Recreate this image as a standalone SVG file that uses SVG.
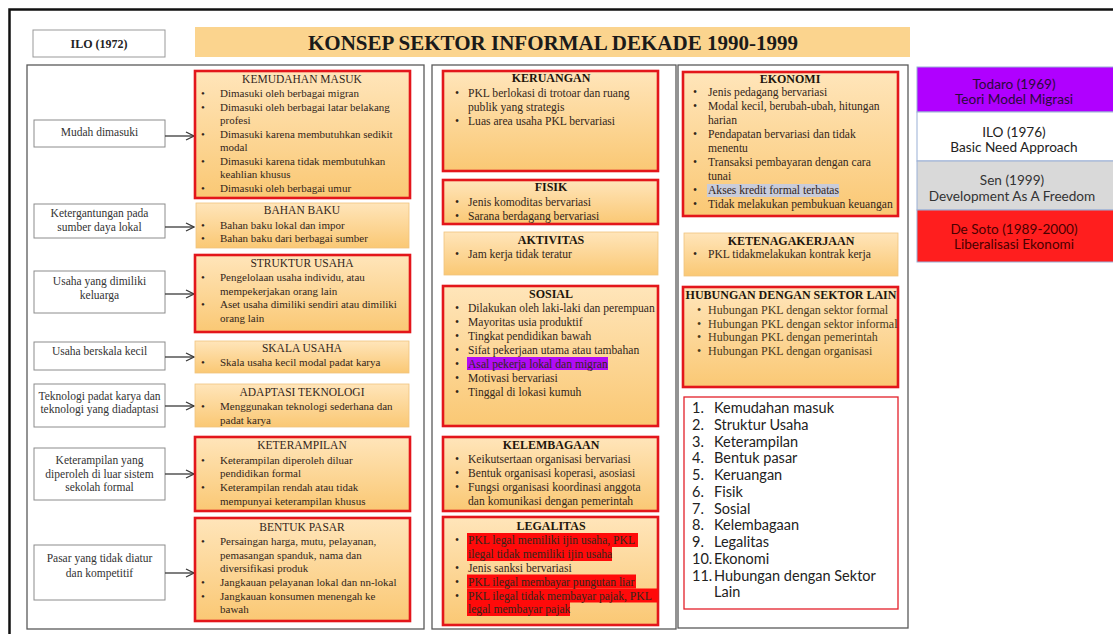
<svg xmlns="http://www.w3.org/2000/svg" width="1113" height="634" viewBox="0 0 1113 634">
<defs>
<linearGradient id="og" x1="0" y1="0" x2="0" y2="1">
<stop offset="0" stop-color="#FFE5BA"/>
<stop offset="1" stop-color="#FAC874"/>
</linearGradient>
<marker id="ah" markerWidth="10" markerHeight="10" refX="9" refY="5" orient="auto" markerUnits="userSpaceOnUse">
<path d="M1,1 L9,5 L1,9" fill="none" stroke="#3a3a3a" stroke-width="1.3"/>
</marker>
</defs>
<style>
.o{fill:url(#og);stroke:#F0C47E;stroke-width:0.8}
.r{fill:url(#og);stroke:#E3161B;stroke-width:2.6}
.lb{fill:#fff;stroke:#8c8c8c;stroke-width:1}
.pn{fill:#fff;stroke:#5a5a5a;stroke-width:1.3}
.t{font-family:"Liberation Serif",serif;font-size:11px;fill:#33261a}
.m{font-family:"Liberation Serif",serif;font-size:11.6px;fill:#33261a}
.h{font-family:"Liberation Serif",serif;font-size:12px;fill:#4a3a1c}
.tl{font-family:"Liberation Serif",serif;font-size:11.5px;fill:#33261a;text-anchor:middle}
.tb{font-family:"Liberation Serif",serif;font-size:12px;font-weight:bold;fill:#1e160c;text-anchor:middle}
.lt{font-family:"Liberation Serif",serif;font-size:11.5px;fill:#333;text-anchor:middle}
.n{font-family:Lato,"Liberation Sans",sans-serif;font-size:14.5px;fill:#222}
.g{font-family:Lato,"Liberation Sans",sans-serif;font-size:13.6px;text-anchor:middle}
.cn{fill:none;stroke:#3a3a3a;stroke-width:1.3;marker-end:url(#ah)}
</style>
<rect width="1113" height="634" fill="#fff"/>
<path d="M9.5,634 V9.5 H1113" fill="none" stroke="#111" stroke-width="2.5"/>

<g id="ilo1972">
<rect x="33" y="30" width="132" height="27" fill="#fff" stroke="#999" stroke-width="1"/>
<text x="99" y="48" font-family="Liberation Serif,serif" font-size="12" font-weight="bold" fill="#222" text-anchor="middle">ILO (1972)</text>
</g>
<g id="title">
<rect x="195" y="27" width="715" height="30" fill="#FBD48E"/>
<text x="553" y="49.5" font-family="Liberation Serif,serif" font-size="21" font-weight="bold" fill="#1a1a1a" text-anchor="middle" textLength="490" lengthAdjust="spacingAndGlyphs">KONSEP SEKTOR INFORMAL DEKADE 1990-1999</text>
</g>

<rect class="pn" x="27" y="65" width="397" height="564"/>
<rect class="pn" x="432" y="65" width="244" height="564"/>
<rect class="pn" x="678" y="65" width="230" height="563"/>

<!-- left labels -->
<g id="lbl-mudah"><rect class="lb" x="34" y="120" width="131" height="27"/><text class="lt" x="99.5" y="136">Mudah dimasuki</text></g>
<g id="lbl-ketergantungan"><rect class="lb" x="34" y="204" width="131" height="34"/><text class="lt" x="99.5" y="217">Ketergantungan pada</text><text class="lt" x="99.5" y="231">sumber daya lokal</text></g>
<g id="lbl-keluarga"><rect class="lb" x="34" y="271" width="131" height="42"/><text class="lt" x="99.5" y="285">Usaha yang dimiliki</text><text class="lt" x="99.5" y="299">keluarga</text></g>
<g id="lbl-kecil"><rect class="lb" x="34" y="342" width="131" height="28"/><text class="lt" x="99.5" y="355">Usaha berskala kecil</text></g>
<g id="lbl-teknologi"><rect class="lb" x="34" y="384" width="131" height="43"/><text class="lt" x="99.5" y="400">Teknologi padat karya dan</text><text class="lt" x="99.5" y="413">teknologi yang diadaptasi</text></g>
<g id="lbl-keterampilan"><rect class="lb" x="34" y="448" width="131" height="52"/><text class="lt" x="99.5" y="464">Keterampilan yang</text><text class="lt" x="99.5" y="478">diperoleh di luar sistem</text><text class="lt" x="99.5" y="491">sekolah formal</text></g>
<g id="lbl-pasar"><rect class="lb" x="34" y="545" width="131" height="55"/><text class="lt" x="99.5" y="562">Pasar yang tidak diatur</text><text class="lt" x="99.5" y="577">dan kompetitif</text></g>

<g id="connectors">
<path class="cn" d="M165,136 H194"/>
<path class="cn" d="M165,227 H194"/>
<path class="cn" d="M165,294 H194"/>
<path class="cn" d="M165,357 H194"/>
<path class="cn" d="M165,406 H194"/>
<path class="cn" d="M165,474 H194"/>
<path class="cn" d="M165,573 H194"/>
</g>

<!-- left content boxes -->
<g id="kemudahan-masuk">
<rect class="r" x="195" y="71" width="215" height="127"/>
<text class="tl" x="302" y="83">KEMUDAHAN MASUK</text>
<text class="t" x="201" y="97">•</text><text class="t" x="220" y="97">Dimasuki oleh berbagai migran</text>
<text class="t" x="201" y="110.5">•</text><text class="t" x="220" y="110.5">Dimasuki oleh berbagai latar belakang</text>
<text class="t" x="220" y="124">profesi</text>
<text class="t" x="201" y="137.5">•</text><text class="t" x="220" y="137.5">Dimasuki karena membutuhkan sedikit</text>
<text class="t" x="220" y="151">modal</text>
<text class="t" x="201" y="164.5">•</text><text class="t" x="220" y="164.5">Dimasuki karena tidak membutuhkan</text>
<text class="t" x="220" y="178">keahlian khusus</text>
<text class="t" x="201" y="191.5">•</text><text class="t" x="220" y="191.5">Dimasuki oleh berbagai umur</text>
</g>
<g id="bahan-baku">
<rect class="o" x="196" y="203" width="213" height="45"/>
<text class="tl" x="302" y="214">BAHAN BAKU</text>
<text class="t" x="201" y="229">•</text><text class="t" x="220" y="229">Bahan baku lokal dan impor</text>
<text class="t" x="201" y="242">•</text><text class="t" x="220" y="242">Bahan baku dari berbagai sumber</text>
</g>
<g id="struktur-usaha">
<rect class="r" x="195" y="255" width="215" height="77"/>
<text class="tl" x="302" y="267">STRUKTUR USAHA</text>
<text class="t" x="201" y="281">•</text><text class="t" x="220" y="281">Pengelolaan usaha individu, atau</text>
<text class="t" x="220" y="294.5">mempekerjakan orang lain</text>
<text class="t" x="201" y="308">•</text><text class="t" x="220" y="308">Aset usaha dimiliki sendiri atau dimiliki</text>
<text class="t" x="220" y="321.5">orang lain</text>
</g>
<g id="skala-usaha">
<rect class="o" x="195" y="341" width="214" height="32"/>
<text class="tl" x="302" y="352">SKALA USAHA</text>
<text class="t" x="201" y="366">•</text><text class="t" x="220" y="366">Skala usaha kecil modal padat karya</text>
</g>
<g id="adaptasi-teknologi">
<rect class="o" x="195" y="384" width="214" height="43"/>
<text class="tl" x="302" y="396">ADAPTASI TEKNOLOGI</text>
<text class="t" x="201" y="410">•</text><text class="t" x="220" y="410">Menggunakan teknologi sederhana dan</text>
<text class="t" x="220" y="424">padat karya</text>
</g>
<g id="keterampilan">
<rect class="r" x="195" y="437" width="215" height="74"/>
<text class="tl" x="302" y="449">KETERAMPILAN</text>
<text class="t" x="201" y="463.5">•</text><text class="t" x="220" y="463.5">Keterampilan diperoleh diluar</text>
<text class="t" x="220" y="477">pendidikan formal</text>
<text class="t" x="201" y="491">•</text><text class="t" x="220" y="491">Keterampilan rendah atau tidak</text>
<text class="t" x="220" y="504.5">mempunyai keterampilan khusus</text>
</g>
<g id="bentuk-pasar">
<rect class="r" x="195" y="518" width="215" height="103"/>
<text class="tl" x="302" y="531">BENTUK PASAR</text>
<text class="t" x="201" y="545">•</text><text class="t" x="220" y="545">Persaingan harga, mutu, pelayanan,</text>
<text class="t" x="220" y="558.5">pemasangan spanduk, nama dan</text>
<text class="t" x="220" y="572">diversifikasi produk</text>
<text class="t" x="201" y="586">•</text><text class="t" x="220" y="586">Jangkauan pelayanan lokal dan nn-lokal</text>
<text class="t" x="201" y="599.5">•</text><text class="t" x="220" y="599.5">Jangkauan konsumen menengah ke</text>
<text class="t" x="220" y="613">bawah</text>
</g>

<!-- middle column -->
<g id="keruangan">
<rect class="r" x="443" y="71" width="215" height="100"/>
<text class="tb" x="551" y="82">KERUANGAN</text>
<text class="m" x="455" y="97">•</text><text class="m" x="468" y="97">PKL berlokasi di trotoar dan ruang</text>
<text class="m" x="468" y="111">publik yang strategis</text>
<text class="m" x="455" y="125">•</text><text class="m" x="468" y="125">Luas area usaha PKL bervariasi</text>
</g>
<g id="fisik">
<rect class="r" x="443" y="180" width="215" height="44"/>
<text class="tb" x="551" y="191">FISIK</text>
<text class="m" x="455" y="206">•</text><text class="m" x="468" y="206">Jenis komoditas bervariasi</text>
<text class="m" x="455" y="220">•</text><text class="m" x="468" y="220">Sarana berdagang bervariasi</text>
</g>
<g id="aktivitas">
<rect class="o" x="444" y="232" width="214" height="43"/>
<text class="tb" x="551" y="244">AKTIVITAS</text>
<text class="m" x="455" y="258">•</text><text class="m" x="468" y="258">Jam kerja tidak teratur</text>
</g>
<g id="sosial">
<rect class="r" x="443" y="286" width="215" height="140"/>
<rect x="467" y="357" width="141" height="13" fill="#B10CF5"/>
<text class="tb" x="551" y="298">SOSIAL</text>
<text class="m" x="455" y="312">•</text><text class="m" x="468" y="312">Dilakukan oleh laki-laki dan perempuan</text>
<text class="m" x="455" y="326">•</text><text class="m" x="468" y="326">Mayoritas usia produktif</text>
<text class="m" x="455" y="340">•</text><text class="m" x="468" y="340">Tingkat pendidikan bawah</text>
<text class="m" x="455" y="354">•</text><text class="m" x="468" y="354">Sifat pekerjaan utama atau tambahan</text>
<text class="m" x="455" y="368">•</text><text class="m" x="468" y="368">Asal pekerja lokal dan migran</text>
<text class="m" x="455" y="382">•</text><text class="m" x="468" y="382">Motivasi bervariasi</text>
<text class="m" x="455" y="396">•</text><text class="m" x="468" y="396">Tinggal di lokasi kumuh</text>
</g>
<g id="kelembagaan">
<rect class="r" x="443" y="437" width="215" height="74"/>
<text class="tb" x="551" y="449">KELEMBAGAAN</text>
<text class="m" x="455" y="463">•</text><text class="m" x="468" y="463">Keikutsertaan organisasi bervariasi</text>
<text class="m" x="455" y="477">•</text><text class="m" x="468" y="477">Bentuk organisasi koperasi, asosiasi</text>
<text class="m" x="455" y="491">•</text><text class="m" x="468" y="491">Fungsi organisasi koordinasi anggota</text>
<text class="m" x="468" y="505">dan komunikasi dengan pemerintah</text>
</g>
<g id="legalitas">
<rect class="r" x="443" y="517" width="215" height="108"/>
<g fill="#FF0A0A">
<rect x="467" y="533" width="171" height="14"/>
<rect x="467" y="547" width="145" height="14"/>
<rect x="467" y="574.5" width="169" height="14"/>
<rect x="467" y="588.5" width="191" height="14"/>
<rect x="467" y="602" width="103" height="14"/>
</g>
<text class="tb" x="551" y="530">LEGALITAS</text>
<text class="m" x="455" y="544">•</text><text class="m" x="468" y="544">PKL legal memiliki ijin usaha, PKL</text>
<text class="m" x="468" y="558">ilegal tidak memiliki ijin usaha</text>
<text class="m" x="455" y="571.5">•</text><text class="m" x="468" y="571.5">Jenis sanksi bervariasi</text>
<text class="m" x="455" y="585.5">•</text><text class="m" x="468" y="585.5">PKL ilegal membayar pungutan liar</text>
<text class="m" x="455" y="599.5">•</text><text class="m" x="468" y="599.5">PKL ilegal tidak membayar pajak, PKL</text>
<text class="m" x="468" y="613">legal membayar pajak</text>
</g>

<!-- right column -->
<g id="ekonomi">
<rect class="r" x="683" y="72" width="215" height="144"/>
<rect x="707" y="184" width="132" height="13" fill="#C9CCDA"/>
<text class="tb" x="790" y="83">EKONOMI</text>
<text class="m" x="693" y="96">•</text><text class="m" x="708" y="96">Jenis pedagang bervariasi</text>
<text class="m" x="693" y="110">•</text><text class="m" x="708" y="110">Modal kecil, berubah-ubah, hitungan</text>
<text class="m" x="708" y="124">harian</text>
<text class="m" x="693" y="138">•</text><text class="m" x="708" y="138">Pendapatan bervariasi dan tidak</text>
<text class="m" x="708" y="152">menentu</text>
<text class="m" x="693" y="166">•</text><text class="m" x="708" y="166">Transaksi pembayaran dengan cara</text>
<text class="m" x="708" y="180">tunai</text>
<text class="m" x="693" y="194">•</text><text class="m" x="708" y="194">Akses kredit formal terbatas</text>
<text class="m" x="693" y="208">•</text><text class="m" x="708" y="208">Tidak melakukan pembukuan keuangan</text>
</g>
<g id="ketenagakerjaan">
<rect class="o" x="684" y="233" width="214" height="43"/>
<text class="tb" x="791" y="245">KETENAGAKERJAAN</text>
<text class="m" x="693" y="258">•</text><text class="m" x="708" y="258">PKL tidakmelakukan kontrak kerja</text>
</g>
<g id="hubungan">
<rect class="r" x="683" y="287" width="215" height="100"/>
<text class="tb" x="791" y="299">HUBUNGAN DENGAN SEKTOR LAIN</text>
<text class="h" x="697" y="314">•</text><text class="h" x="708" y="314">Hubungan PKL dengan sektor formal</text>
<text class="h" x="697" y="327.5">•</text><text class="h" x="708" y="327.5">Hubungan PKL dengan sektor informal</text>
<text class="h" x="697" y="341">•</text><text class="h" x="708" y="341">Hubungan PKL dengan pemerintah</text>
<text class="h" x="697" y="355">•</text><text class="h" x="708" y="355">Hubungan PKL dengan organisasi</text>
</g>
<g id="daftar">
<rect x="684" y="397" width="214" height="212" fill="#fff" stroke="#E3202A" stroke-width="1.3"/>
<text class="n" x="692" y="413">1.</text><text class="n" x="714" y="413">Kemudahan masuk</text>
<text class="n" x="692" y="429.8">2.</text><text class="n" x="714" y="429.8">Struktur Usaha</text>
<text class="n" x="692" y="446.5">3.</text><text class="n" x="714" y="446.5">Keterampilan</text>
<text class="n" x="692" y="463.3">4.</text><text class="n" x="714" y="463.3">Bentuk pasar</text>
<text class="n" x="692" y="480">5.</text><text class="n" x="714" y="480">Keruangan</text>
<text class="n" x="692" y="496.8">6.</text><text class="n" x="714" y="496.8">Fisik</text>
<text class="n" x="692" y="513.5">7.</text><text class="n" x="714" y="513.5">Sosial</text>
<text class="n" x="692" y="530.3">8.</text><text class="n" x="714" y="530.3">Kelembagaan</text>
<text class="n" x="692" y="547">9.</text><text class="n" x="714" y="547">Legalitas</text>
<text class="n" x="692" y="563.8">10.</text><text class="n" x="714" y="563.8">Ekonomi</text>
<text class="n" x="692" y="580.5">11.</text><text class="n" x="714" y="580.5">Hubungan dengan Sektor</text>
<text class="n" x="714" y="597.3">Lain</text>
</g>

<!-- legend -->
<g id="todaro">
<rect x="917" y="67" width="197" height="45" fill="#B000FF" stroke="#9AAFD6" stroke-width="1"/>
<text class="g" x="1014" y="88.5" fill="#2a0a3a">Todaro (1969)</text>
<text class="g" x="1014" y="103.5" fill="#2a0a3a">Teori Model Migrasi</text>
</g>
<g id="ilo1976">
<rect x="917" y="112" width="197" height="49" fill="#fff" stroke="#9AAFD6" stroke-width="1"/>
<text class="g" x="1014" y="136.5" fill="#222">ILO (1976)</text>
<text class="g" x="1014" y="151.5" fill="#222">Basic Need Approach</text>
</g>
<g id="sen">
<rect x="917" y="161" width="197" height="49" fill="#D9D9D9" stroke="#9AAFD6" stroke-width="1"/>
<text class="g" x="1012" y="184.5" fill="#333">Sen (1999)</text>
<text class="g" x="1012" y="200.5" fill="#333">Development As A Freedom</text>
</g>
<g id="desoto">
<rect x="917" y="210" width="197" height="52" fill="#FF1E1E" stroke="#9AAFD6" stroke-width="1"/>
<text class="g" x="1014" y="233.5" fill="#4a0000">De Soto (1989-2000)</text>
<text class="g" x="1014" y="248.5" fill="#4a0000">Liberalisasi Ekonomi</text>
</g>
</svg>
